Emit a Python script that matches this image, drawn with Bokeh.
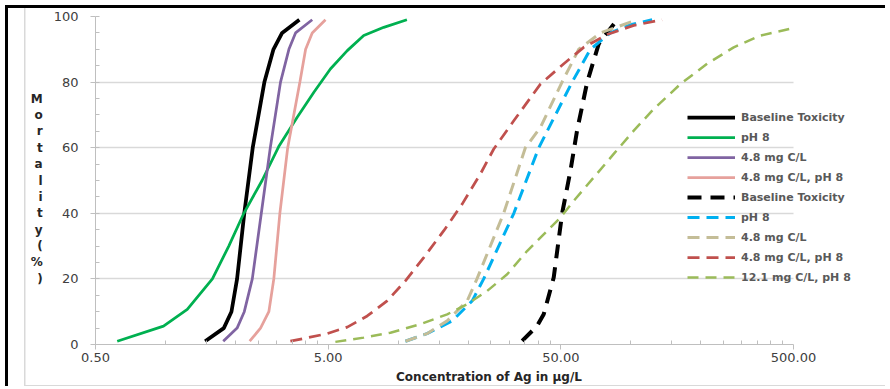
from bokeh.plotting import figure
from bokeh.models import Range1d, FixedTicker, PrintfTickFormatter, Legend, LegendItem
from bokeh.embed import file_html
from bokeh.resources import INLINE

# ---- data (concentration in ug/L, mortality in %) ----
base_x = [1.48, 1.78, 1.92, 2.03, 2.18, 2.37, 2.66, 2.91, 3.17, 3.76]
base_y = [1, 5, 10, 20, 40, 60, 80, 90, 95, 99]

ph8_x = [0.62, 0.98, 1.24, 1.59, 1.87, 2.17, 2.60, 3.08, 3.68, 4.34, 5.11, 6.04, 7.11, 8.67, 10.9]
ph8_y = [1, 5.6, 10.7, 20, 30, 40, 50, 60.6, 69.3, 76.9, 84, 89.6, 94.2, 96.7, 99]

c48_x = [1.77, 2.03, 2.18, 2.36, 2.58, 2.82, 3.12, 3.39, 3.62, 4.27]
c48_y = [1, 5, 10, 20, 40, 60, 80, 90, 95, 99]

c48ph8_x = [2.30, 2.56, 2.78, 2.92, 3.10, 3.35, 3.78, 4.00, 4.27, 4.87]
c48ph8_y = [1, 5, 10, 20, 40, 60, 80, 90, 95, 99]

d_base_x = [34.1, 39.5, 42.2, 46.6, 50.6, 55.0, 58.7, 64.9, 72.8, 87.3]
d_base_y = [1.1, 5.6, 9.2, 20.4, 39.8, 53, 65.2, 80, 91.7, 99]

d_ph8_x = [10.74, 13.3, 17.06, 20.8, 23.3, 31.4, 40.2, 55.9, 67.0, 81.7, 99.6, 123.4]
d_ph8_y = [1, 3.3, 7.2, 13.3, 20, 40, 60, 80, 90, 95, 97.5, 99]

d_c48_x = [10.74, 13.3, 16.24, 19.79, 21.8, 28.4, 35.2, 40.86, 50.6, 59.7, 74.0, 106.4]
d_c48_y = [1, 3.3, 7.2, 13.3, 20, 40, 60, 66.2, 80, 90, 95, 99]

d_c48ph8_x = [3.44, 4.95, 6.04, 7.36, 8.96, 10.74, 12.87, 15.70, 18.83, 22.56, 25.74,
              31.38, 40.86, 51.5, 62.7, 79.1, 102.9, 136.2]
d_c48ph8_y = [1, 3.3, 5.3, 8.7, 13.3, 19.4, 26.5, 34.7, 42.8, 52, 59.6,
              68.2, 79.4, 85.6, 90.6, 94.5, 97.3, 99]

d_c121_x = [5.37, 7.11, 9.26, 12.47, 16.24, 19.79, 24.1, 29.4, 35.8, 40.86, 49.8,
            56.8, 69.2, 84.4, 102.9, 125.4, 163.3, 212.7, 276.7, 360.4, 500]
d_c121_y = [0.8, 2.1, 3.6, 6.2, 9.2, 12.3, 16.3, 21.4, 28.5, 32.6, 38.7,
            43.8, 50.9, 58.1, 65.2, 71.8, 79.4, 85.6, 90.6, 94.2, 96.5]

x_major = [0.5, 5, 50, 500]
x_minor = [0.5 * k * 10 ** n for n in range(3) for k in range(2, 10)]
y_major = [0, 20, 40, 60, 80, 100]
y_minor = list(range(0, 101, 5))

FONT = "DejaVu Sans"
GRAY_TXT = "#404040"

# layout: axis spans 0.5..500 over 698 px; frame continues to the right to hold the legend
AXIS_PX = 698
FRAME_PX = 787
W = 880
H = 381
x_end = 0.5 * 10 ** (3 * FRAME_PX / AXIS_PX)

p = figure(width=W, height=H, x_axis_type="log",
           x_range=Range1d(0.5, x_end), y_range=Range1d(0, 100),
           output_backend="svg", toolbar_location=None,
           min_border_left=87, min_border_right=W - 87 - FRAME_PX,
           min_border_top=8, min_border_bottom=45,
           background_fill_color="white", border_fill_alpha=0)
p.outline_line_color = None
p.styles = {
    "margin-left": "5px", "margin-top": "5px",
    "border-left": "3px solid black", "border-top": "3px solid black",
    "background-color": "white",
    "background-image": "linear-gradient(#d9d9d9, #d9d9d9), linear-gradient(#d9d9d9, #d9d9d9)",
    "background-size": "1.5px 100%, 100% 1.5px",
    "background-position": "16px 0px, 16px 377px",
    "background-repeat": "no-repeat",
}

# grid
p.xgrid.grid_line_color = None
p.ygrid.grid_line_color = "#d9d9d9"
p.ygrid.grid_line_width = 1.5
p.ygrid.cross_bounds = (0.5, 500)

# axes
p.xaxis.ticker = FixedTicker(ticks=x_major, minor_ticks=x_minor)
p.xaxis.formatter = PrintfTickFormatter(format="%.2f")
p.xaxis.bounds = (0.5, 500)
p.yaxis.ticker = FixedTicker(ticks=y_major, minor_ticks=y_minor)
for ax in (p.xaxis[0], p.yaxis[0]):
    ax.axis_line_color = "#bfbfbf"
    ax.major_tick_line_color = "#bfbfbf"
    ax.minor_tick_line_color = "#bfbfbf"
    ax.major_tick_out = 5
    ax.major_tick_in = 0
    ax.minor_tick_in = 4
    ax.minor_tick_out = 0
    ax.major_label_text_font = FONT
    ax.major_label_text_font_size = "13px"
    ax.major_label_text_color = GRAY_TXT
    ax.axis_label_text_font = FONT
    ax.axis_label_text_font_size = "12px"
    ax.axis_label_text_font_style = "bold"
    ax.axis_label_text_color = "#262626"

p.xaxis.major_label_standoff = 3
p.xaxis.axis_label = "Concentration of Ag in \u00b5g/L"
p.xaxis.axis_label_standoff = 5

p.yaxis.major_label_standoff = 12
p.yaxis.axis_label = "\n".join([" "] + list("Mortality") + ["(", "%", ")"])
p.yaxis.axis_label_orientation = "horizontal"
p.yaxis.axis_label_text_line_height = 1.17
p.yaxis.axis_label_standoff = 8

# series
items = []
def add(xs, ys, color, width, dash, label):
    r = p.line(xs, ys, line_color=color, line_width=width, line_dash=dash)
    items.append(LegendItem(label=label, renderers=[r]))

add(base_x, base_y, "#000000", 3.75, "solid", "Baseline Toxicity")
add(ph8_x, ph8_y, "#00b050", 2.75, "solid", "pH 8")
add(c48_x, c48_y, "#8064a2", 2.75, "solid", "4.8 mg C/L")
add(c48ph8_x, c48ph8_y, "#e6a19c", 2.75, "solid", "4.8 mg C/L, pH 8")
add(d_base_x, d_base_y, "#000000", 4, "14 9", "Baseline Toxicity")
add(d_ph8_x, d_ph8_y, "#00b0f0", 3, "12 7", "pH 8")
add(d_c48_x, d_c48_y, "#c4bd97", 3, "12 7", "4.8 mg C/L")
add(d_c48ph8_x, d_c48ph8_y, "#c0504d", 2.75, "12 7", "4.8 mg C/L, pH 8")
add(d_c121_x, d_c121_y, "#9bbb59", 2.5, "11 7", "12.1 mg C/L, pH 8")

legend = Legend(items=items, location=(592, 57), orientation="vertical",
                glyph_width=48, glyph_height=20, label_height=20, label_standoff=6,
                spacing=0, padding=0, margin=0,
                background_fill_alpha=0, border_line_alpha=0,
                label_text_font=FONT, label_text_font_size="11px",
                label_text_font_style="bold", label_text_color="#595959")
p.add_layout(legend, "center")

open("out.html", "w").write(file_html(p, INLINE))
